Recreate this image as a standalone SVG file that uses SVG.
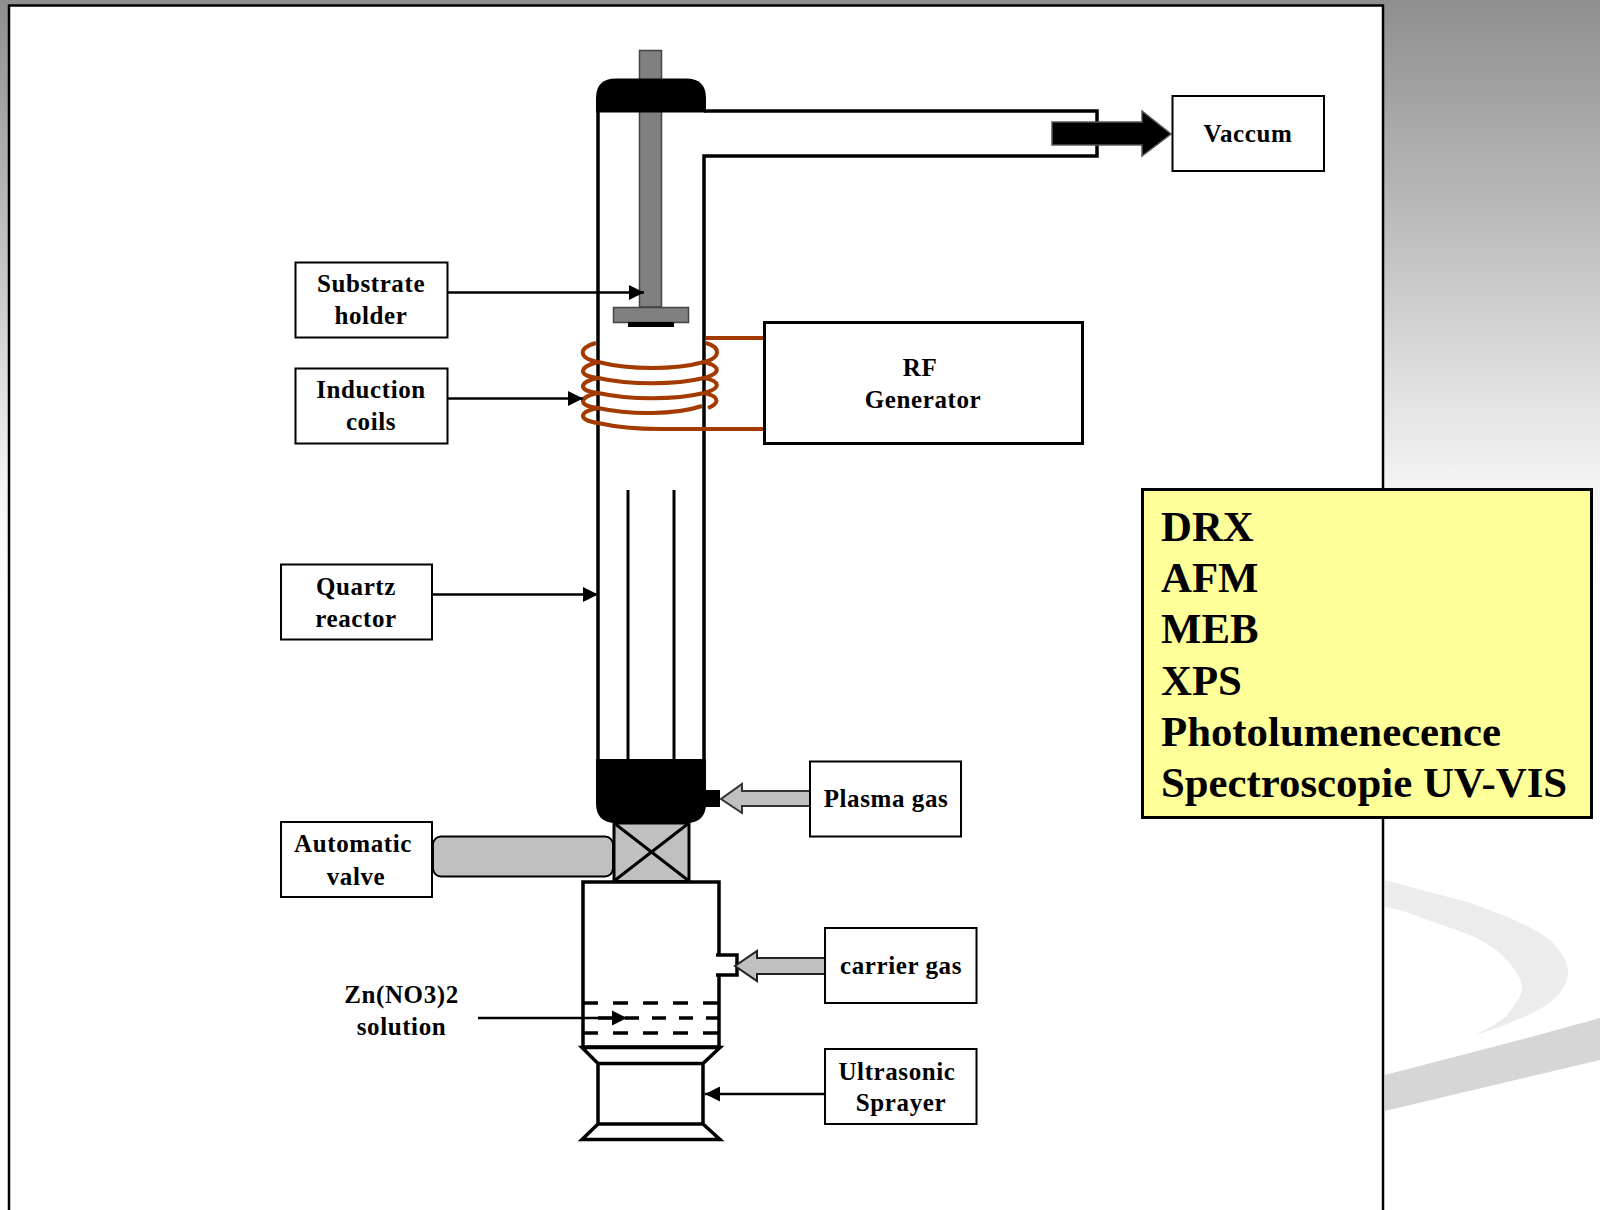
<svg xmlns="http://www.w3.org/2000/svg" width="1600" height="1210" viewBox="0 0 1600 1210">
<style>
.box{fill:#fff;stroke:#000;stroke-width:2}
.lbl{font-family:"Liberation Serif","Times New Roman",serif;font-weight:bold;font-size:25px;letter-spacing:0.6px;text-anchor:middle;fill:#000}
.big{font-family:"Liberation Serif","Times New Roman",serif;font-weight:bold;font-size:42.800px;fill:#000}
.wall{fill:none;stroke:#000;stroke-width:3.5}
.thin{fill:none;stroke:#000;stroke-width:3}
.coil{fill:none;stroke:#a33a00;stroke-width:4}
.gray{fill:#c0c0c0;stroke:#000;stroke-width:2}
.conn{fill:none;stroke:#000;stroke-width:2.500;marker-end:url(#ah)}
</style>
<defs>
<linearGradient id="bg" x1="0" y1="0" x2="0" y2="1"><stop offset="0" stop-color="#8f8f8f"/><stop offset="0.2" stop-color="#c0c0c0"/><stop offset="0.4" stop-color="#f4f4f4"/><stop offset="0.5" stop-color="#fff"/><stop offset="1" stop-color="#fff"/></linearGradient>
<marker id="ah" markerUnits="userSpaceOnUse" markerWidth="16" markerHeight="16" refX="15" refY="8" orient="auto"><path d="M0,0.5L15,8L0,15.5Z" fill="#000"/></marker>
</defs>
<g id="background">
<rect width="1600" height="1210" fill="url(#bg)"/>
<path d="M1447,467L1455,467L1464,489L1457,489Z" fill="#f2f2f2"/>
<path d="M1385,880L1467,902C1510,917 1540,930 1553,943C1564,955 1569,965 1568,975C1566,988 1556,1000 1540,1009C1520,1020 1495,1029 1475,1035C1490,1027 1502,1021 1507,1015C1515,1005 1522,995 1522,990C1522,978 1515,968 1500,953C1490,945 1480,939 1470,935L1400,910L1385,907Z" fill="#ececec"/>
<path d="M1385,1075L1527,1038L1600,1018L1600,1060L1385,1111Z" fill="#d6d6d6"/>
</g>
<rect id="panel" x="9" y="5.500" width="1374" height="1210" fill="#fff" stroke="#000" stroke-width="2.500"/>
<g id="reactor">
<path class="wall" d="M598,110V759M704,759V156H1097V111H704"/>
<path d="M639.500,50.500H661.500V307H639.500Z" fill="#808080" stroke="#444" stroke-width="1.500"/>
<path d="M596,112.500V98Q596,78.500 616,78.500H686Q706,78.500 706,98V112.500Z" fill="#000"/>
<path class="thin" d="M628,490V759M674,490V759"/>
<rect x="613.500" y="307.500" width="75" height="15" fill="#808080" stroke="#444" stroke-width="1.500"/>
<rect x="628" y="322" width="46" height="5" fill="#000"/>
<path d="M596,759H706V803Q706,823 686,823H616Q596,823 596,803Z" fill="#000"/>
<rect x="704" y="790" width="16" height="17" fill="#000"/>
</g>
<g id="coils">
<path class="coil" d="M596,343C578,348 578,358 598,362C630,370 675,370 704,362C722,357 720,347 706,343"/>
<path class="coil" d="M598,362C578,367 578,376 598,378C630,385 675,385 704,378C722,373 720,366 704,362"/>
<path class="coil" d="M598,378C578,382 578,391 598,393C630,400 675,400 704,393C722,388 720,381 704,378"/>
<path class="coil" d="M598,393C578,397 578,406 598,408C630,415 675,415 702,406"/>
<path class="coil" d="M704,393C722,397 718,404 708,408"/>
<path class="coil" d="M598,408C578,412 578,420 598,423C620,428 640,429 660,429H704"/>
</g>
<g id="rf-generator">
<path class="coil" d="M706,338H764M704,429H764"/>
<rect x="764.500" y="322.500" width="318" height="121" fill="#fff" stroke="#000" stroke-width="3"/>
<text class="lbl" x="920" y="376">RF</text>
<text class="lbl" x="923" y="408">Generator</text>
</g>
<g id="valve">
<rect class="gray" x="433" y="836.500" width="180" height="40" rx="8" stroke-width="3"/>
<rect x="614" y="823" width="75" height="58.500" fill="#c0c0c0" stroke="#000" stroke-width="3"/>
<path d="M614,823L689,881M689,823L614,881" stroke="#000" stroke-width="3"/>
</g>
<g id="vessel">
<path class="wall" d="M716,955H737V975H716M719,975V1047H583V882H719V955"/>
<path d="M583,1003H719M583,1033H719" stroke="#000" stroke-width="3.500" stroke-dasharray="15,15" fill="none"/>
<path d="M598,1018H719" stroke="#000" stroke-width="3.500" stroke-dasharray="14,13" fill="none"/>
</g>
<g id="sprayer">
<path class="wall" d="M582,1047.500H720L703,1063.500V1124L720,1139.500H582L598,1124V1063.500ZM598,1063.500H703M598,1124H703"/>
</g>
<g id="connectors">
<path class="conn" d="M447,292.500H644"/>
<path class="conn" d="M447,398.500H583"/>
<path class="conn" d="M432,594.500H598"/>
<path class="conn" d="M478,1018H627"/>
<path class="conn" d="M825,1094H705"/>
<path d="M810,791H742V784L721,799L742,813V806H810Z" fill="#c0c0c0" stroke="#333" stroke-width="2"/>
<path d="M825,958H757V951L735,966L757,981V974H825Z" fill="#c0c0c0" stroke="#222" stroke-width="2"/>
<path d="M1052,122H1142V111L1171,134L1142,156V145H1052Z" fill="#000" stroke="#555" stroke-width="1.500"/>
</g>
<g id="substrate-holder"><rect class="box" x="295.500" y="262.500" width="152" height="75"/><text class="lbl" x="371" y="292">Substrate</text><text class="lbl" x="371" y="324">holder</text></g>
<g id="induction-coils"><rect class="box" x="295.500" y="368.500" width="152" height="75"/><text class="lbl" x="371" y="398">Induction</text><text class="lbl" x="371" y="430">coils</text></g>
<g id="quartz-reactor"><rect class="box" x="281" y="564.500" width="151" height="75"/><text class="lbl" x="356" y="595">Quartz</text><text class="lbl" x="356" y="627">reactor</text></g>
<g id="automatic-valve"><rect class="box" x="281" y="822" width="151" height="75"/><text class="lbl" x="353" y="852">Automatic</text><text class="lbl" x="356" y="885">valve</text></g>
<g id="plasma-gas"><rect class="box" x="810" y="761.500" width="151" height="75"/><text class="lbl" x="886" y="807">Plasma gas</text></g>
<g id="carrier-gas"><rect class="box" x="825" y="928" width="151.500" height="75"/><text class="lbl" x="901" y="974">carrier gas</text></g>
<g id="ultrasonic-sprayer"><rect class="box" x="825" y="1049" width="151.500" height="75"/><text class="lbl" x="897" y="1080">Ultrasonic</text><text class="lbl" x="901" y="1111">Sprayer</text></g>
<g id="vaccum"><rect class="box" x="1172.500" y="96" width="151.500" height="75"/><text class="lbl" x="1248" y="142">Vaccum</text></g>
<g id="solution"><text class="lbl" x="401.500" y="1003">Zn(NO3)2</text><text class="lbl" x="401.500" y="1035">solution</text></g>
<g id="techniques">
<rect x="1142.500" y="489.500" width="449" height="328" fill="#ffff99" stroke="#000" stroke-width="3"/>
<text class="big" x="1161" y="541">DRX</text>
<text class="big" x="1161" y="592">AFM</text>
<text class="big" x="1161" y="643">MEB</text>
<text class="big" x="1161" y="695">XPS</text>
<text class="big" x="1161" y="746">Photolumenecence</text>
<text class="big" x="1161" y="797">Spectroscopie UV-VIS</text>
</g>
</svg>
